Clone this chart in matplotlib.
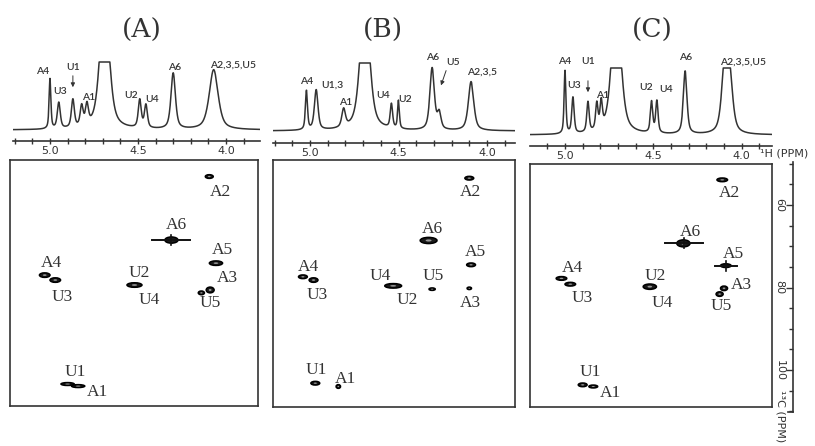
import matplotlib
matplotlib.use("Agg")
import matplotlib.pyplot as plt
from matplotlib.patches import Ellipse
from matplotlib.ticker import MultipleLocator
import numpy as np

# 1D proton spectra: peak centre (ppm), height, half width (ppm)
a_ppm = [5.00, 4.95, 4.87, 4.82, 4.79, 4.69, 4.49, 4.455, 4.30, 4.07]
a_height = [50, 26, 28, 20, 20, 140, 28, 23, 56, 60]
a_width = [0.006, 0.010, 0.010, 0.010, 0.010, 0.030, 0.010, 0.010, 0.015, 0.030]

b_ppm = [5.02, 4.965, 4.81, 4.69, 4.54, 4.50, 4.31, 4.27, 4.09]
b_height = [39, 40, 18, 140, 24, 28, 62, 16, 49]
b_width = [0.007, 0.012, 0.012, 0.030, 0.008, 0.006, 0.015, 0.012, 0.018]

c_ppm = [5.00, 4.955, 4.87, 4.82, 4.795, 4.71, 4.51, 4.48, 4.32, 4.10, 4.085, 4.065]
c_height = [63, 36, 30, 26, 26, 140, 31, 32, 63, 38, 48, 38]
c_width = [0.006, 0.008, 0.008, 0.008, 0.008, 0.030, 0.008, 0.008, 0.012, 0.02, 0.02, 0.02]

# labels on the 1D spectra: text, ppm, height
a_lab = ["A4", "U1", "U3", "A1", "U2", "U4", "A6", "A2,3,5,U5"]
a_lab_x = [5.04, 4.87, 4.94, 4.78, 4.54, 4.42, 4.295, 3.96]
a_lab_y = [58, 63, 39, 32, 34, 31, 63, 65]
b_lab = ["A4", "U1,3", "A1", "U4", "U2", "A6", "U5", "A2,3,5"]
b_lab_x = [5.02, 4.876, 4.80, 4.59, 4.463, 4.31, 4.19, 4.03]
b_lab_y = [49, 46, 28, 35, 31, 73, 68, 59]
c_lab = ["A4", "U1", "U3", "A1", "U2", "U4", "A6", "A2,3,5,U5"]
c_lab_x = [5.005, 4.87, 4.95, 4.785, 4.54, 4.43, 4.315, 3.99]
c_lab_y = [73, 73, 50, 39, 48, 45, 77, 73]

# HSQC cross peaks: 1H ppm, 13C ppm, extent in 1H (ppm), extent in 13C (ppm)
a_xh = [4.095, 4.31, 4.057, 5.03, 4.97, 4.52, 4.09, 4.14, 4.90, 4.84]
a_xc = [53.1, 68.5, 74.1, 77.0, 78.2, 79.4, 80.6, 81.3, 103.4, 103.9]
a_xw = [0.045, 0.075, 0.075, 0.06, 0.06, 0.085, 0.045, 0.035, 0.075, 0.075]
a_xhh = [0.9, 1.5, 1.1, 1.1, 1.1, 1.1, 1.4, 0.9, 0.7, 0.7]
b_xh = [4.10, 4.33, 4.09, 5.04, 4.98, 4.53, 4.31, 4.10, 4.97, 4.84]
b_xc = [53.5, 68.6, 74.5, 77.4, 78.2, 79.6, 80.4, 80.2, 103.2, 104.0]
b_xw = [0.05, 0.095, 0.05, 0.05, 0.05, 0.095, 0.035, 0.025, 0.05, 0.025]
b_xhh = [0.9, 1.5, 0.9, 0.9, 1.1, 1.1, 0.6, 0.6, 0.9, 0.9]
c_xh = [4.11, 4.33, 4.09, 5.02, 4.97, 4.52, 4.10, 4.125, 4.90, 4.84]
c_xc = [53.9, 69.3, 74.7, 77.8, 79.2, 79.8, 80.2, 81.6, 103.6, 104.0]
c_xw = [0.06, 0.075, 0.06, 0.06, 0.06, 0.075, 0.04, 0.04, 0.05, 0.05]
c_xhh = [0.9, 1.7, 0.9, 0.9, 0.9, 1.3, 1.1, 1.1, 0.9, 0.7]

# t1 noise streaks: 13C ppm, 1H from, 1H to
a_streak = [(68.5, 4.418, 4.202)]
b_streak = []
c_streak = [(69.3, 4.434, 4.219), (74.7, 4.151, 4.027)]

# labels on the 2D maps
a_2lab = ["A2", "A6", "A5", "A3", "U5", "A4", "U3", "U2", "U4", "U1", "A1"]
a_2lab_x = [4.034, 4.284, 4.023, 3.994, 4.09, 4.99, 4.93, 4.494, 4.4375, 4.858, 4.733]
a_2lab_y = [56.8, 64.8, 70.9, 77.7, 83.8, 74.1, 82.3, 76.5, 83.0, 100.5, 105.3]
b_2lab = ["A2", "A6", "A5", "A4", "U3", "U4", "U2", "U5", "A3", "U1", "A1"]
b_2lab_x = [4.096, 4.311, 4.068, 5.011, 4.96, 4.605, 4.452, 4.305, 4.096, 4.966, 4.80]
b_2lab_y = [56.8, 65.8, 71.4, 75.0, 81.8, 77.2, 83.0, 77.2, 83.8, 100.0, 102.2]
c_2lab = ["A2", "A6", "A5", "A3", "U5", "A4", "U3", "U2", "U4", "U1", "A1"]
c_2lab_x = [4.072, 4.293, 4.049, 4.004, 4.117, 4.96, 4.904, 4.49, 4.45, 4.859, 4.74]
c_2lab_y = [57.1, 66.5, 71.9, 79.4, 84.5, 75.3, 82.5, 77.2, 83.8, 100.5, 105.6]

titles = ["(A)", "(B)", "(C)"]
title_x = [142, 383, 652]

W, H = 815, 446
INK = "#333333"


def rect(l, t, r, b):
    return [l / W, 1 - b / H, (r - l) / W, (b - t) / H]


def spectrum(x, ppm, height, width):
    y = np.zeros_like(x)
    for p, h, w in zip(ppm, height, width):
        lor = 1 / (1 + ((x - p) / w) ** 2)
        gau = np.exp(-np.log(2) * ((x - p) / w) ** 2)
        y += h * (0.6 * lor + 0.4 * gau)
    return y


# layout of each panel in pixels
panels = [
    dict(px50=50, s=176, l1=13, r1=260, base=130, ruler=141, clip=68,
         box=(10, 160, 258, 406)),
    dict(px50=310, s=177, l1=273, r1=515, base=131, ruler=143, clip=68,
         box=(273, 160, 515, 407)),
    dict(px50=565, s=176.7, l1=530, r1=772, base=135, ruler=146, clip=67,
         box=(530, 164, 772, 407)),
]
spec = [(a_ppm, a_height, a_width), (b_ppm, b_height, b_width), (c_ppm, c_height, c_width)]
labs1 = [(a_lab, a_lab_x, a_lab_y), (b_lab, b_lab_x, b_lab_y), (c_lab, c_lab_x, c_lab_y)]
cross = [(a_xh, a_xc, a_xw, a_xhh), (b_xh, b_xc, b_xw, b_xhh), (c_xh, c_xc, c_xw, c_xhh)]
streaks = [a_streak, b_streak, c_streak]
labs2 = [(a_2lab, a_2lab_x, a_2lab_y), (b_2lab, b_2lab_x, b_2lab_y), (c_2lab, c_2lab_x, c_2lab_y)]


def c_of(y):
    return 60 + (y - 205) / 4.125


fig = plt.figure(figsize=(W / 100, H / 100), dpi=100)

for i, p in enumerate(panels):
    to_ppm = lambda x, p=p: 5.0 - (x - p["px50"]) / p["s"]

    # 1D spectrum with ppm ruler
    ax = fig.add_axes(rect(p["l1"], 40, p["r1"], p["ruler"]))
    x0, x1 = to_ppm(p["l1"]), to_ppm(p["r1"])
    xs = np.linspace(x1, x0, 3000)
    ys = np.minimum(spectrum(xs, *spec[i]), p["clip"])
    ax.plot(xs, ys, color=INK, lw=1.1)
    ax.set_xlim(x0, x1)
    ax.set_ylim(-(p["ruler"] - p["base"]), p["base"] - 40)
    for k in ["top", "left", "right"]:
        ax.spines[k].set_visible(False)
    ax.spines["bottom"].set_color(INK)
    ax.spines["bottom"].set_linewidth(1.2)
    ax.set_yticks([])
    ax.set_xticks([5.0, 4.5, 4.0])
    ax.set_xticklabels(["5.0", "4.5", "4.0"])
    ax.xaxis.set_minor_locator(MultipleLocator(0.1))
    ax.tick_params(axis="x", which="both", direction="inout", length=5,
                   width=1, color=INK, labelsize=8, pad=1, labelcolor=INK)
    ax.patch.set_alpha(0)
    for t, lx, ly in zip(*labs1[i]):
        ax.text(lx, ly, t, ha="center", va="center", fontsize=7.5,
                family="Lato", weight="semibold", color=INK)
    if i in (0, 2):
        ax.annotate("", xy=(4.87, 40), xytext=(4.87, 57),
                    arrowprops=dict(arrowstyle="-|>", color=INK, lw=0.7,
                                    mutation_scale=6))
    if i == 1:
        ax.annotate("", xy=(4.265, 43), xytext=(4.226, 63),
                    arrowprops=dict(arrowstyle="-|>", color=INK, lw=0.7,
                                    mutation_scale=6))

    fig.text(title_x[i] / W, 1 - 30 / H, titles[i], ha="center", va="center",
             fontsize=19, family="DejaVu Serif", color=INK)

    # 2D HSQC map
    l, t, r, b = p["box"]
    ax2 = fig.add_axes(rect(l, t, r, b))
    ax2.set_xlim(to_ppm(l), to_ppm(r))
    ax2.set_ylim(c_of(b), c_of(t))
    ax2.set_xticks([])
    ax2.set_yticks([])
    for sp in ax2.spines.values():
        sp.set_color(INK)
        sp.set_linewidth(1.2)
    for cy, xa, xb in streaks[i]:
        ax2.plot([xa, xb], [cy, cy], color="#111111", lw=1.4)
        xm = (xa + xb) / 2
        ax2.plot([xm, xm], [cy - 1.2, cy + 1.2], color="#111111", lw=1.2)
    for hx, cy, w, hh in zip(*cross[i]):
        ax2.add_patch(Ellipse((hx, cy), w, hh, facecolor="#1a1a1a",
                              edgecolor="black", lw=1.1))
        ax2.add_patch(Ellipse((hx, cy), w * 0.35, hh * 0.35, facecolor="#999999",
                              edgecolor="none"))
    for t2, lx, ly in zip(*labs2[i]):
        ax2.text(lx, ly, t2, ha="center", va="center", fontsize=12.5,
                 family="Liberation Serif", color=INK)

# 13C ruler at the right of panel C
axc = fig.add_axes(rect(793, 162, 800, 412))
axc.set_ylim(c_of(412), c_of(162))
axc.set_xlim(0, 1)
axc.set_xticks([])
for k in ["top", "right", "bottom"]:
    axc.spines[k].set_visible(False)
axc.spines["left"].set_color(INK)
axc.spines["left"].set_linewidth(1.2)
axc.patch.set_alpha(0)
axc.set_yticks([60, 80, 100])
axc.yaxis.set_minor_locator(MultipleLocator(5))
axc.tick_params(axis="y", which="major", length=5, width=1, color=INK,
                labelsize=8, pad=1, labelcolor=INK, labelrotation=-90)
axc.tick_params(axis="y", which="minor", length=3, width=1, color=INK)
for lab in axc.get_yticklabels():
    lab.set_va("center")
# bracket hook at the bottom of the 13C ruler
fig.add_artist(plt.Line2D([788 / W, 793 / W], [1 - 412 / H, 1 - 412 / H],
                          color=INK, lw=1.2))

fig.text(760 / W, 1 - 153 / H, "¹H (PPM)", ha="left", va="center",
         fontsize=8, color=INK)
fig.text(781 / W, 1 - 390 / H, "¹³C (PPM)", ha="center", va="top",
         fontsize=8, color=INK, rotation=-90)

fig.savefig("out.png", dpi=100)
